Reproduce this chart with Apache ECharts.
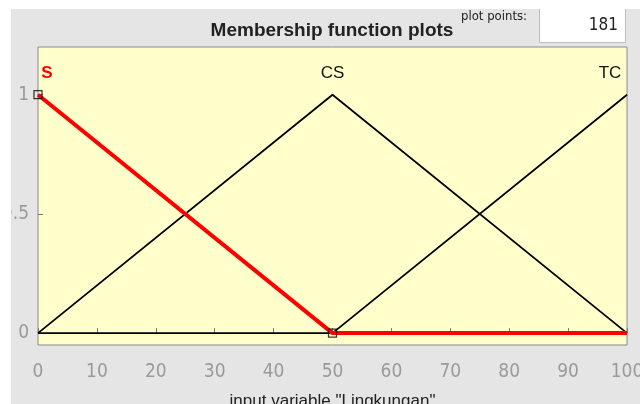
<!DOCTYPE html>
<html><head><meta charset="utf-8">
<script src="https://cdn.jsdelivr.net/npm/echarts@6/dist/echarts.min.js"></script>
<style>html,body{margin:0;padding:0;background:#fff}#c{width:640px;height:404px}</style>
</head><body><div id="c"></div>
<script>
var xValues = [0, 50, 100];
var seriesS = [1, 0, 0];
var seriesCS = [0, 1, 0];
var seriesTC = [0, 0, 1];
var mfNames = ['S', 'CS', 'TC'];
var xTicks = [0, 10, 20, 30, 40, 50, 60, 70, 80, 90, 100];
var yTicks = [0, 0.5, 1];
var markerPoints = [[0, 1], [50, 0]];

function pairs(vals){ return xValues.map(function(x,i){ return [x, vals[i]]; }); }
var FONT = '"DejaVu Sans Condensed","Liberation Sans",Arial,sans-serif';
var FONT2 = '"Liberation Sans",Arial,sans-serif';
function mfLabel(name, x, y, color, bold, dx){
  return { symbol: 'circle', symbolSize: 0, data: [{ coord: [x, y], value: name }],
    label: { show: true, position: 'inside', color: color, fontSize: 17, fontWeight: bold ? 'bold' : 'normal', fontFamily: FONT2, offset: [dx, -21], formatter: '{c}' } };
}
var chart = echarts.init(document.getElementById('c'));
chart.setOption({
  animation: false,
  backgroundColor: '#e5e5e5',
  grid: { left: 38, right: 13, top: 47, bottom: 59, outerBoundsMode: 'none', containLabel: false, show: true, backgroundColor: '#ffffcc', borderColor: '#8a8a8a', borderWidth: 1 },
  xAxis: {
    type: 'value', min: 0, max: 100, interval: 10,
    axisLine: { show: false }, splitLine: { show: false },
    axisTick: { inside: true, length: 5, customValues: xTicks, lineStyle: { color: '#777' } },
    axisLabel: { color: '#9a9a9a', fontSize: 19, fontFamily: FONT, margin: 18, customValues: xTicks },
    name: 'input variable "Lingkungan"', nameLocation: 'middle', nameGap: 48,
    nameTextStyle: { color: '#222', fontSize: 17, fontFamily: FONT2 }
  },
  yAxis: {
    type: 'value', min: -0.05, max: 1.2,
    axisLine: { show: false }, splitLine: { show: false },
    axisTick: { inside: true, length: 5, customValues: yTicks, lineStyle: { color: '#777' } },
    axisLabel: { color: '#9a9a9a', fontSize: 19, fontFamily: FONT, margin: 9, customValues: yTicks }
  },
  graphic: [
    { type: 'rect', shape: { x: 0, y: 0, width: 11, height: 404 }, style: { fill: '#fff' }, z: 100 },
    { type: 'rect', shape: { x: 539.5, y: 0, width: 86, height: 42.5 }, style: { fill: '#fff', stroke: '#bdbdbd', lineWidth: 1 }, z: 100 },
    { type: 'text', x: 618, y: 26, style: { text: '181', fill: '#222', font: '17px ' + FONT, textAlign: 'right', textVerticalAlign: 'middle' }, z: 101 },
    { type: 'text', x: 332, y: 31, style: { text: 'Membership function plots', fill: '#222', font: 'bold 19px ' + FONT2, textAlign: 'center', textVerticalAlign: 'middle' }, z: 101 },
    { type: 'text', x: 494, y: 17, style: { text: 'plot points:', fill: '#222', font: '13px ' + FONT, textAlign: 'center', textVerticalAlign: 'middle' }, z: 101 },
    { type: 'rect', shape: { x: 0, y: 0, width: 640, height: 9 }, style: { fill: '#fff' }, z: 102 }
  ],
  series: [
    { type: 'line', data: pairs(seriesCS), symbol: 'none', lineStyle: { color: '#000', width: 1.8 }, z: 2,
      markPoint: mfLabel(mfNames[1], 50, 1, '#111', false, 0) },
    { type: 'line', data: pairs(seriesTC), symbol: 'none', lineStyle: { color: '#000', width: 1.8 }, z: 2,
      markPoint: mfLabel(mfNames[2], 100, 1, '#111', false, -17) },
    { type: 'line', data: pairs(seriesS), symbol: 'none', lineStyle: { color: '#ff0000', width: 4 }, z: 3,
      markPoint: mfLabel(mfNames[0], 0, 1, '#ff0000', true, 9) },
    { type: 'scatter', data: markerPoints, symbol: 'rect', symbolSize: 8, itemStyle: { color: 'rgba(0,0,0,0)', borderColor: '#000', borderWidth: 1.2 }, z: 4 }
  ]
});
</script></body></html>
